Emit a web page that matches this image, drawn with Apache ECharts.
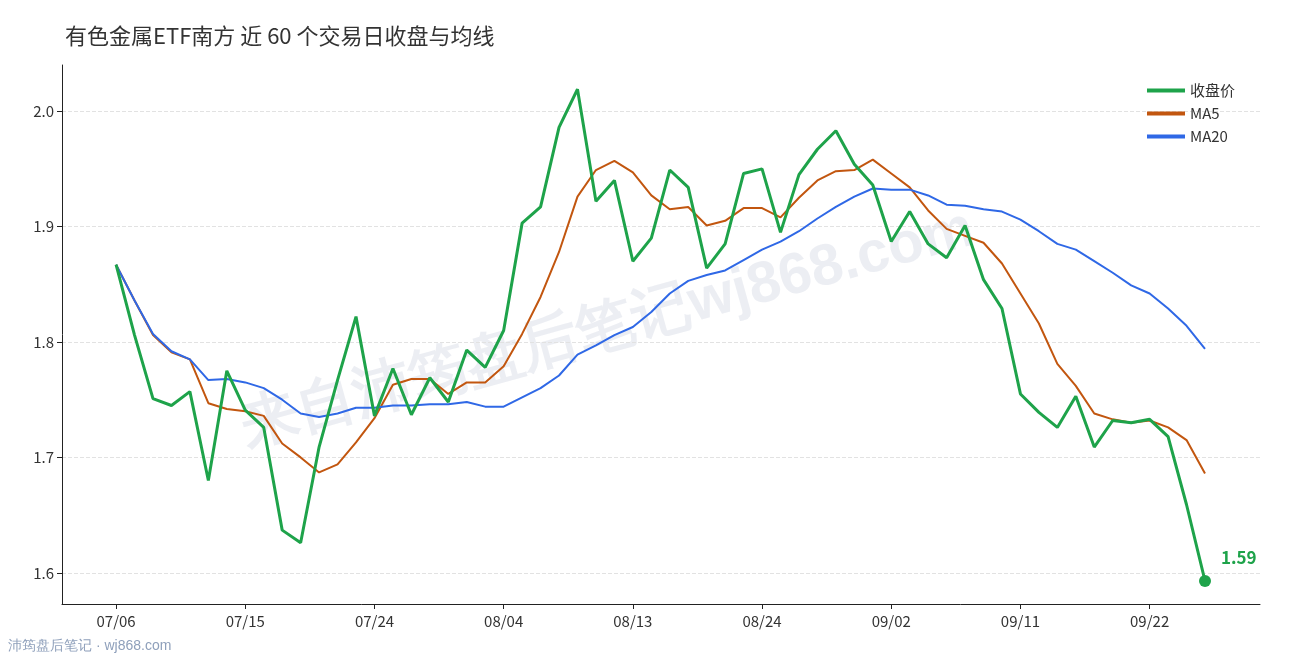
<!DOCTYPE html>
<html><head><meta charset="utf-8">
<script src="https://cdn.jsdelivr.net/npm/echarts@6/dist/echarts.min.js"></script>
<style>html,body{margin:0;padding:0;background:#fff}#c{width:1290px;height:660px}</style>
</head><body><div id="c"></div>
<script>
const dates=['07/06','07/07','07/08','07/09','07/10','07/13','07/14','07/15','07/16','07/17','07/20','07/21','07/22','07/23','07/24','07/27','07/28','07/29','07/30','07/31','08/03','08/04','08/05','08/06','08/07','08/10','08/11','08/12','08/13','08/14','08/17','08/18','08/19','08/20','08/21','08/24','08/25','08/26','08/27','08/28','08/31','09/01','09/02','09/03','09/04','09/07','09/08','09/09','09/10','09/11','09/14','09/15','09/16','09/17','09/18','09/21','09/22','09/23','09/24','09/25'];
const closeV=[1.867,1.806,1.751,1.745,1.757,1.680,1.775,1.741,1.726,1.637,1.626,1.709,1.767,1.822,1.736,1.777,1.737,1.769,1.748,1.793,1.778,1.810,1.903,1.917,1.986,2.019,1.922,1.940,1.870,1.890,1.949,1.934,1.864,1.885,1.946,1.950,1.895,1.945,1.967,1.983,1.954,1.936,1.887,1.913,1.885,1.873,1.901,1.854,1.829,1.755,1.739,1.726,1.753,1.709,1.732,1.730,1.733,1.718,1.659,1.593];
const ma5V=[1.867,1.836,1.806,1.791,1.785,1.747,1.742,1.740,1.736,1.712,1.700,1.687,1.694,1.713,1.734,1.763,1.768,1.768,1.755,1.765,1.765,1.779,1.807,1.839,1.878,1.926,1.949,1.957,1.947,1.927,1.915,1.917,1.901,1.905,1.916,1.916,1.908,1.925,1.940,1.948,1.949,1.958,1.946,1.934,1.914,1.898,1.892,1.886,1.868,1.842,1.816,1.781,1.762,1.738,1.733,1.730,1.732,1.726,1.715,1.686];
const ma20V=[1.867,1.836,1.807,1.792,1.785,1.767,1.768,1.765,1.760,1.750,1.738,1.735,1.738,1.743,1.743,1.745,1.745,1.746,1.746,1.748,1.744,1.744,1.752,1.760,1.771,1.789,1.797,1.806,1.813,1.826,1.842,1.853,1.858,1.862,1.871,1.880,1.887,1.896,1.907,1.917,1.926,1.933,1.932,1.932,1.927,1.919,1.918,1.915,1.913,1.906,1.896,1.885,1.880,1.870,1.860,1.849,1.842,1.829,1.814,1.794];
const yTicks=[1.6,1.7,1.8,1.9,2.0];
const xTicks=[0,7,14,21,28,35,42,49,56];
const pts=a=>a.map((v,i)=>[i,v]);
const ch=echarts.init(document.getElementById('c'));
const last=closeV.length-1;
ch.setOption({
  animation:false,
  textStyle:{fontFamily:'Noto Sans CJK SC, Noto Sans, sans-serif'},
  title:{text:'有色金属ETF南方 近 60 个交易日收盘与均线',left:60,top:20,textStyle:{fontSize:22,fontWeight:'normal',color:'#333'}},
  legend:{right:50,top:78,orient:'vertical',itemGap:8,itemWidth:38,textStyle:{fontSize:15,color:'#333'},data:['收盘价','MA5','MA20'],icon:'path://M0,0L10,0L10,1L0,1Z'},
  grid:{left:62,right:30,top:65,bottom:56},
  xAxis:{type:'value',min:-2.93,max:61.98,
    axisLine:{onZero:false,lineStyle:{color:'#222'}},splitLine:{show:false},
    axisTick:{customValues:xTicks,lineStyle:{color:'#222'}},
    axisLabel:{customValues:xTicks,formatter:v=>dates[Math.round(v)],fontSize:15,color:'#333',margin:10}},
  yAxis:{type:'value',min:1.573,max:2.04,
    axisLine:{show:true,onZero:false,lineStyle:{color:'#222'}},
    axisTick:{show:true,customValues:yTicks,lineStyle:{color:'#222'}},
    axisLabel:{customValues:yTicks,formatter:v=>v.toFixed(1),fontSize:15,color:'#333'},
    splitLine:{show:true,lineStyle:{type:'dashed',color:'#e2e2e2'}}},
  graphic:[
    {type:'text',left:235,top:200,rotation:0.27,z:0,style:{text:'来自沛筠盘后笔记wj868.com',fontSize:58,fontWeight:'bold',fill:'rgba(200,205,220,0.35)'}},
    {type:'text',left:8,top:639,style:{text:'沛筠盘后笔记 · wj868.com',fontSize:14,fill:'#8fa0bb'}}
  ],
  series:[
    {name:'收盘价',type:'line',data:pts(closeV),symbol:'none',z:5,lineStyle:{width:3,color:'#1ea34a'},itemStyle:{color:'#1ea34a'},
     markPoint:{symbol:'circle',symbolSize:12,data:[{coord:[last,closeV[last]],value:closeV[last].toFixed(2)}],
       itemStyle:{color:'#1ea34a'},label:{show:true,position:[22,-26],fontSize:17,fontWeight:'bold',color:'#1ea34a'}}},
    {name:'MA5',type:'line',data:pts(ma5V),symbol:'none',lineStyle:{width:2,color:'#c2560f'},itemStyle:{color:'#c2560f'}},
    {name:'MA20',type:'line',data:pts(ma20V),symbol:'none',lineStyle:{width:2,color:'#2f68e6'},itemStyle:{color:'#2f68e6'}}
  ]
});
</script></body></html>
